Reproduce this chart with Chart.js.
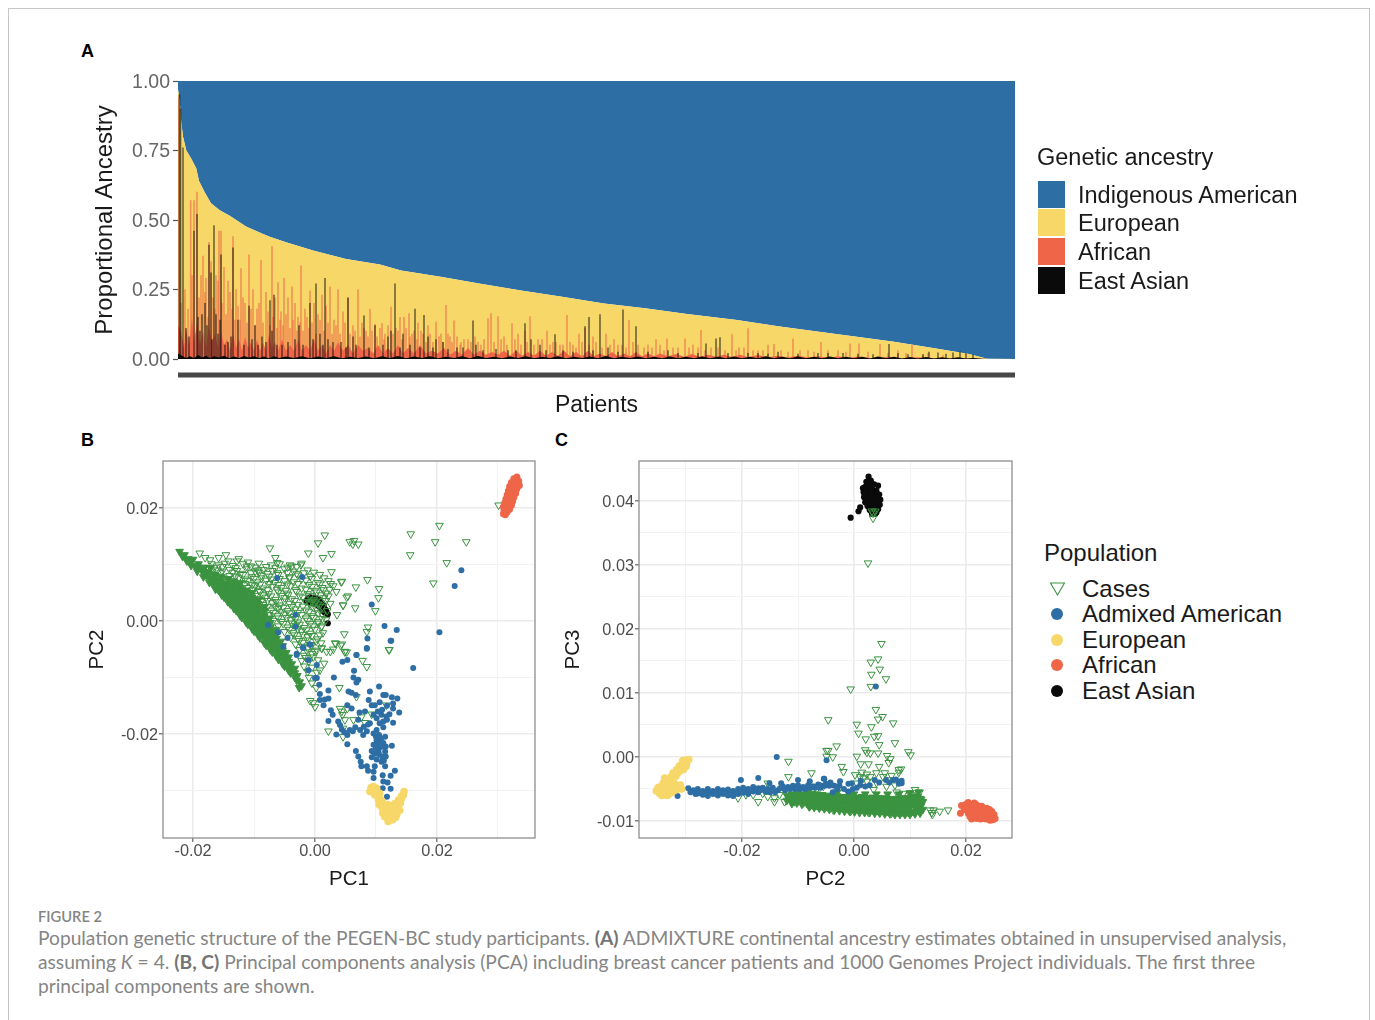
<!DOCTYPE html>
<html>
<head>
<meta charset="utf-8">
<title>Figure 2</title>
<script src="https://cdn.jsdelivr.net/npm/chart.js@4/dist/chart.umd.min.js"></script>
<style>
  html, body { margin: 0; background: #fff; overflow: hidden; }
  body { width: 1375px; height: 1020px; position: relative; font-family: "Liberation Sans", Arial, sans-serif; color: #1a1a1a; }
  canvas { position: absolute; }
  #frame { position: absolute; left: 8px; top: 8px; width: 1360px; height: 1100px; border: 1px solid #c6c6c6; }
  .tag { position: absolute; font-weight: bold; font-size: 18px; line-height: 20px; color: #000; }
  .lg { position: absolute; font-size: 24px; line-height: 30px; height: 30px; white-space: nowrap; }
  .lg.narrow { font-size: 23.5px; }
  .swatch, .dot { position: absolute; }
  .dot { width: 12px; height: 12px; border-radius: 50%; }
  #caption { position: absolute; left: 38px; top: 906px; font-family: Lato, sans-serif; color: #858585; white-space: nowrap; }
  #caption .fig { font-size: 14.7px; line-height: 20px; font-weight: 600; }
  #caption .txt { font-size: 19.2px; line-height: 24px; font-weight: 400; }
  #caption .txt b { font-weight: 700; color: #747474; }
</style>
</head>
<body>
<div id="frame"></div>
<div class="tag" style="left:81px;top:41px">A</div>
<div class="tag" style="left:81px;top:430px">B</div>
<div class="tag" style="left:555px;top:430px">C</div>
<canvas id="panelA" width="960" height="374" style="left:80px;top:56px"></canvas>
<canvas id="panelB" width="490" height="459" style="left:70px;top:436px"></canvas>
<canvas id="panelC" width="491" height="459" style="left:546px;top:436px"></canvas>
<div id="legends"></div>
<div id="caption">
  <div class="fig">FIGURE 2</div>
  <div class="txt">Population genetic structure of the PEGEN-BC study participants. <b>(A)</b> ADMIXTURE continental ancestry estimates obtained in unsupervised analysis,<br>assuming <i>K</i> = 4. <b>(B, C)</b> Principal components analysis (PCA) including breast cancer patients and 1000 Genomes Project individuals. The first three<br>principal components are shown.</div>
</div>
<script>
// ---- panel A: patients ordered by falling non-indigenous share ----
const ancestryLabels = ['Indigenous American', 'European', 'African', 'East Asian'];
const ancestryTicks = [0, 0.25, 0.5, 0.75, 1];
// [patient rank, share that is not Indigenous American]
const nonIndigenous = [[0,.97],[1.7,.93],[3.3,.85],[5,.8],[8.3,.75],[13.3,.72],[18.3,.685],[21,.64],[26.7,.6],[33,.56],[41.7,.535],[51.7,.515],[68,.477],[85,.45],[91.7,.44],[108,.42],[135,.39],[168,.36],[202,.34],[223,.318],[264,.295],[301,.272],[343,.246],[384,.224],[426,.2],[467,.183],[509,.162],[559,.14],[600,.118],[641,.098],[675,.082],[716,.062],[758,.038],[791,.018],[809,.001],[837,0]];
// low African + East Asian fringe
const africanBand = [[0,.12],[3,.1],[6,.04],[8,.11],[11,.05],[14,.15],[16,.06],[19,.13],[22,.05],[25,.1],[28,.04],[31,.12],[34,.06],[37,.09],[40,.04],[43,.1],[46,.05],[49,.07],[52,.03],[55,.09],[58,.04],[61,.07],[64,.03],[67,.08],[70,.04],[73,.06],[76,.03],[79,.07],[82,.03],[85,.06],[88,.03],[91,.09],[94,.04],[97,.06],[100,.03],[104,.07],[108,.03],[112,.05],[116,.03],[120,.07],[124,.03],[128,.05],[132,.03],[136,.07],[140,.03],[144,.05],[148,.02],[152,.05],[156,.03],[160,.06],[165,.03],[170,.05],[175,.02],[180,.05],[185,.03],[190,.04],[195,.02],[200,.05],[205,.02],[210,.04],[215,.02],[220,.05],[225,.02],[230,.04],[236,.02],[242,.05],[248,.02],[254,.03],[260,.02],[266,.04],[272,.015],[278,.03],[284,.015],[290,.04],[296,.015],[302,.03],[308,.015],[314,.025],[320,.015],[326,.03],[332,.012],[338,.03],[344,.012],[350,.025],[356,.012],[362,.03],[368,.012],[374,.025],[380,.012],[386,.03],[392,.01],[398,.025],[404,.01],[410,.03],[416,.01],[422,.02],[428,.01],[434,.025],[440,.01],[446,.02],[452,.01],[458,.025],[464,.01],[470,.02],[476,.01],[482,.02],[490,.01],[498,.018],[506,.008],[514,.018],[522,.008],[530,.015],[538,.008],[546,.015],[554,.007],[562,.015],[570,.006],[580,.014],[590,.006],[600,.012],[610,.005],[620,.012],[630,.005],[640,.01],[650,.004],[660,.01],[670,.004],[680,.009],[695,.003],[710,.008],[725,.003],[740,.006],[760,.002],[780,.004],[800,.001],[810,0]];
const eastAsianBand = [[0,.02],[4,.012],[8,.004],[12,.01],[16,.004],[20,.014],[24,.005],[28,.012],[32,.004],[36,.01],[41,.005],[46,.012],[51,.004],[56,.009],[61,.004],[66,.011],[71,.005],[76,.01],[81,.004],[86,.009],[91,.003],[96,.01],[101,.004],[108,.009],[116,.004],[124,.01],[132,.003],[140,.009],[148,.004],[156,.01],[164,.003],[172,.008],[180,.004],[188,.009],[196,.003],[204,.01],[212,.004],[220,.011],[228,.003],[236,.009],[244,.004],[252,.01],[260,.003],[268,.008],[276,.004],[284,.01],[292,.003],[300,.011],[308,.004],[316,.008],[324,.003],[332,.009],[340,.004],[348,.01],[356,.003],[364,.008],[372,.004],[380,.01],[388,.003],[396,.008],[404,.004],[412,.009],[420,.003],[428,.011],[436,.003],[444,.008],[452,.004],[460,.009],[468,.003],[476,.008],[484,.003],[492,.009],[500,.003],[508,.008],[516,.003],[524,.009],[532,.003],[540,.008],[548,.003],[556,.009],[564,.003],[572,.008],[580,.003],[588,.01],[596,.003],[604,.008],[612,.003],[620,.009],[628,.003],[636,.008],[644,.003],[652,.009],[660,.003],[668,.008],[676,.003],[684,.008],[692,.002],[700,.009],[708,.003],[716,.008],[724,.002],[732,.007],[740,.002],[748,.007],[756,.002],[764,.006],[772,.002],[780,.006],[788,.002],[796,.004],[804,.001],[810,0]];
// single patients standing out above the fringe: [rank, top of bar]
const africanSpikes = [[.5,.94],[12.7,.57],[16,.57],[19,.6],[25,.37],[28,.29],[31,.42],[33,.35],[38,.3],[41,.46],[43,.46],[46,.33],[50,.28],[55,.44],[58,.25],[63,.325],[67,.2],[71,.375],[75,.25],[79,.18],[83,.355],[88,.24],[94,.405],[97,.22],[100,.275],[103,.17],[106,.29],[110,.22],[114,.26],[117,.2],[120,.15],[123,.335],[127,.18],[132,.245],[136,.2],[140,.16],[144,.23],[148,.19],[152,.26],[156,.14],[160,.25],[165,.17],[170,.22],[175,.12],[180,.25],[184,.13],[188,.1],[192,.18],[197,.125],[204,.127],[207,.09],[213,.187],[218,.11],[222,.15],[226,.15],[231,.163],[234,.09],[240,.13],[243,.1],[250,.12],[258,.133],[263,.09],[268,.193],[272,.08],[276,.137],[283,.06],[290,.07],[300,.06],[310,.145],[313,.163],[320,.153],[326,.08],[334,.127],[340,.09],[347,.1],[352,.153],[360,.07],[369,.1],[375,.06],[382,.05],[389,.157],[395,.05],[401,.09],[407,.11],[415,.08],[428,.09],[436,.07],[440,.05],[451,.139],[455,.06],[470,.05],[478,.07],[489,.073],[495,.04],[507,.073],[515,.05],[523,.103],[533,.04],[554,.088],[561,.04],[570,.109],[580,.03],[590,.05],[596,.053],[615,.073],[630,.03],[643,.06],[660,.03],[672,.055],[681,.055],[702,.053],[720,.03],[734,.05],[750,.02]];
const africanLowSpikes = [[3,.2],[7,.25],[10,.18],[14,.3],[21,.22],[23,.3],[27,.24],[30,.15],[35,.22],[37,.18],[40,.28],[44,.2],[48,.16],[52,.24],[54,.18],[57,.14],[60,.19],[62,.14],[65,.22],[69,.13],[73,.18],[77,.12],[81,.2],[85,.13],[90,.17],[92,.12],[95,.15],[99,.11],[102,.14],[105,.12],[108,.16],[112,.11],[115,.14],[119,.1],[122,.13],[125,.1],[129,.15],[131,.11],[134,.13],[138,.09],[142,.14],[146,.1],[150,.13],[154,.09],[158,.12],[162,.09],[167,.13],[172,.09],[177,.1],[182,.08],[186,.11],[190,.08],[194,.1],[199,.08],[202,.11],[206,.07],[210,.12],[215,.09],[220,.1],[224,.07],[228,.11],[232,.08],[236,.1],[239,.07],[245,.09],[248,.06],[252,.09],[255,.06],[261,.08],[265,.06],[270,.09],[274,.06],[279,.08],[282,.05],[286,.07],[293,.06],[297,.08],[303,.05],[306,.07],[316,.06],[323,.07],[329,.05],[337,.07],[343,.05],[349,.06],[356,.05],[364,.07],[372,.05],[378,.06],[385,.05],[392,.06],[398,.04],[404,.06],[411,.05],[418,.06],[424,.04],[432,.05],[444,.05],[448,.04],[460,.05],[466,.04],[474,.04],[482,.05],[486,.03],[500,.04],[511,.04],[520,.04],[527,.03],[540,.04],[547,.03],[558,.03],[566,.04],[575,.03],[585,.03],[603,.03],[610,.025],[622,.03],[636,.025],[650,.03],[668,.025],[690,.025],[710,.02],[728,.02],[745,.015],[765,.012]];
const eastAsianSpikes = [[1.5,.95],[2.5,.9],[5,.76],[16,.46],[19,.52],[20,.15],[24,.16],[27,.2],[31,.41],[33,.31],[36,.48],[38,.16],[42,.14],[43,.375],[50,.06],[55,.4],[60,.14],[71,.19],[77,.12],[84,.08],[92,.21],[94,.1],[96,.23],[104,.05],[117,.07],[121,.12],[132,.2],[138,.27],[142,.09],[147,.29],[150,.07],[163,.06],[170,.22],[175,.08],[186,.155],[197,.12],[210,.08],[213,.1],[217,.27],[225,.09],[237,.18],[246,.157],[250,.08],[258,.07],[265,.06],[279,.04],[295,.137],[298,.05],[330,.03],[347,.127],[353,.07],[362,.05],[377,.088],[385,.03],[407,.117],[411,.15],[422,.16],[430,.04],[445,.177],[458,.117],[490,.03],[528,.055],[538,.073],[542,.077],[580,.02],[600,.025],[640,.02],[665,.02],[711,.053],[720,.02],[751,.025],[760,.022],[775,.022],[782,.026],[788,.02],[795,.015]];
const eastAsianLowSpikes = [[8,.11],[11,.08],[22,.1],[29,.12],[34,.07],[40,.09],[47,.05],[53,.08],[66,.05],[74,.07],[80,.05],[88,.06],[99,.05],[110,.06],[125,.05],[135,.07],[145,.05],[155,.06],[168,.04],[178,.05],[191,.04],[205,.05],[222,.04],[232,.05],[242,.04],[255,.04],[270,.035],[285,.04],[305,.03],[318,.035],[338,.03],[368,.03],[395,.025],[415,.03],[440,.025],[470,.025],[500,.02],[520,.02],[550,.02],[570,.02],[590,.018],[620,.018],[650,.02],[680,.018],[695,.016],[730,.016],[745,.016],[768,.018]];
const patientRange = [0, 837];
const rugLevel = -0.0576; // the merged tick row under the bars

// ---- panels B and C: PC scores in units of 1e-4, [x, y] ----
const populationLabels = ['Cases', 'Admixed American', 'European', 'African', 'East Asian'];
const casesCoreB = [[-222,123],[-214,117],[-208,110],[-205,104],[-200,109],[-196,96],[-191,101],[-186,90],[-181,95],[-178,80],[-176,87],[-171,94],[-168,66],[-167,74],[-165,82],[-158,54],[-157,62],[-156,70],[-155,78],[-149,42],[-148,50],[-147,58],[-146,66],[-139,30],[-138,38],[-137,46],[-136,54],[-135,63],[-129,18],[-128,26],[-127,34],[-126,42],[-125,50],[-124,59],[-120,6],[-119,14],[-118,22],[-117,30],[-116,38],[-115,46],[-114,54],[-110,-6],[-109,2],[-108,10],[-107,18],[-106,26],[-105,34],[-104,42],[-100,-18],[-99,-10],[-98,-2],[-97,6],[-96,14],[-95,22],[-94,30],[-90,-30],[-89,-22],[-88,-14],[-87,-6],[-86,2],[-85,10],[-84,18],[-80,-43],[-79,-35],[-78,-27],[-77,-19],[-76,-11],[-75,-3],[-74,5],[-70,-55],[-69,-47],[-68,-39],[-67,-31],[-66,-23],[-65,-15],[-60,-68],[-59,-60],[-58,-52],[-57,-44],[-56,-36],[-50,-80],[-49,-72],[-48,-64],[-47,-56],[-40,-92],[-39,-84],[-38,-76],[-30,-105],[-29,-97],[-26,-118],
  [-217,114],[-210,106],[-203,98],[-203,106],[-193,88],[-193,96],[-183,78],[-183,86],[-183,94],[-173,68],[-173,76],[-173,84],[-163,56],[-163,64],[-163,72],[-163,80],[-153,46],[-153,54],[-153,62],[-153,70],[-153,78],[-143,34],[-143,42],[-143,50],[-143,58],[-143,66],[-143,74],[-133,22],[-133,30],[-133,38],[-133,46],[-133,54],[-133,62],[-133,70],[-123,10],[-123,18],[-123,26],[-123,34],[-123,42],[-123,50],[-123,58],[-123,66],[-113,-2],[-113,6],[-113,14],[-113,22],[-113,30],[-113,38],[-113,46],[-113,54],[-103,-14],[-103,-6],[-103,2],[-103,10],[-103,18],[-103,26],[-103,34],[-103,42],[-103,50],[-93,-26],[-93,-18],[-93,-10],[-93,-2],[-93,6],[-93,14],[-93,22],[-93,30],[-93,38],[-83,-39],[-83,-31],[-83,-23],[-83,-15],[-83,-7],[-83,1],[-83,9],[-83,17],[-83,25],[-73,-51],[-73,-43],[-73,-35],[-73,-27],[-73,-19],[-73,-11],[-73,-3],[-63,-63],[-63,-55],[-63,-47],[-63,-39],[-63,-31],[-63,-23],[-53,-76],[-53,-68],[-53,-60],[-53,-52],[-53,-44],[-43,-88],[-43,-80],[-43,-72],[-43,-64],[-33,-100],[-33,-92],[-33,-84],[-25,-108],[-22,-115]];
const casesB = [[-189,120],[-180,112],[-172,108],[-158,112],[-146,117],[-142,106],[-128,106],[-125,110],[-110,104],[-93,90],[-74,129],[-65,112],[-62,103],[-41,99],[-23,99],[-11,120],[5,138],[16,152],[13,112],[27,119],[64,142],[62,136],[71,136],[57,140],[27,87],[43,69],[52,42],[46,28],[36,11],[13,-21],[11,-9],[33,-39],[11,-48],[49,-55],[157,154],[204,169],[197,140],[248,140],[156,117],[216,103],[194,67],[44,70],[86,73],[67,60],[105,57],[54,44],[104,41],[46,28],[66,23],[99,18],[87,-11],[85,-19],[48,-23],[121,-51],[44,-41],[301,205],[122,-51],[11,-48],[19,-54],[25,-54],[30,-50],[34,-40],[42,-43],[49,-54],[52,-55],[78,-70],[85,-81],[15,-75],[8,-87],[40,-118],[2,-118],[68,-134],[-8,-141],[-3,-145],[0,-152],[41,-155],[44,-160],[45,-166],[53,-155],[49,-175],[63,-175],[76,-170],[82,-180],[93,-165],[117,-149],[22,-195],[46,-190],[46,-205],
  [-170,101],[-158,99],[-148,102],[-135,98],[-118,101],[-105,97],[-92,102],[-72,99],[-58,101],[-38,97],[-22,102],
  [-160,90],[-152,88],[-140,91],[-128,89],[-112,92],[-98,88],[-85,91],[-70,89],[-50,92],[-35,88],[-12,90],
  [-140,80],[-130,79],[-118,82],[-104,78],[-88,81],[-75,79],[-60,82],[-42,78],[-28,81],[-8,79],[8,82],
  [-135,71],[-122,68],[-110,71],[-95,69],[-80,72],[-66,68],[-50,71],[-35,69],[-15,72],[5,68],[22,71],
  [-125,61],[-110,59],[-98,62],[-85,58],[-70,61],[-55,59],[-40,62],[-22,58],[-5,61],[12,59],[30,62],
  [-115,51],[-105,49],[-90,52],[-76,48],[-60,51],[-46,49],[-30,52],[-12,48],[3,51],[18,49],[35,52],
  [-105,41],[-92,39],[-80,42],[-65,38],[-50,41],[-38,39],[-20,42],[-2,38],[15,41],
  [-95,31],[-85,29],[-70,32],[-58,28],[-42,31],[-28,29],[-10,32],[8,28],[25,31],
  [-85,21],[-72,19],[-60,22],[-45,18],[-32,21],[-15,19],[2,22],[20,18],
  [-75,11],[-62,9],[-50,12],[-35,8],[-22,11],[-5,9],[12,12],
  [-68,1],[-55,-1],[-40,2],[-28,-2],[-12,1],[5,-1],[18,2],
  [-60,-9],[-45,-11],[-32,-8],[-18,-12],[-3,-9],[10,-11],
  [-50,-19],[-36,-21],[-22,-18],[-8,-22],
  [-40,-29],[-28,-31],[-12,-28],[4,-32],
  [-32,-41],[-20,-38],[-6,-42],[10,-39],
  [-25,-51],[-12,-48],[3,-52],
  [-18,-61],[-5,-58],[-22,-70],[-10,-71],[5,-69],[-18,-80],[-5,-82],[-12,-90],[3,-91],[-10,-100],[-5,-110],
  [-165,95],[-152,96],[-130,94],[-112,97],[-98,95],[-80,96],[-65,94],[-45,95],[-30,96],
  [-155,85],[-135,86],[-122,84],[-105,85],[-92,86],[-78,84],[-62,85],[-45,86],[-30,84],[-18,85],[-2,86],
  [-142,75],[-125,76],[-115,74],[-100,75],[-88,76],[-72,74],[-58,75],[-42,76],[-22,74],[-5,75],[15,76],
  [-130,65],[-115,66],[-103,64],[-90,65],[-75,66],[-60,64],[-45,65],[-28,66],[-10,64],[8,65],[26,66],
  [-120,55],[-102,56],[-92,54],[-78,55],[-62,56],[-48,54],[-32,55],[-15,56],[0,54],[14,55],[24,56],
  [-98,45],[-85,46],[-72,44],[-55,45],[-44,46],[-25,44],[-8,45],[10,46],[22,44],
  [-88,35],[-78,36],[-64,34],[-50,35],[-33,36],[-15,34],[2,35],[18,36],
  [-78,25],[-65,26],[-52,24],[-38,25],[-20,26],[-3,24],[12,25],
  [-68,15],[-55,16],[-42,14],[-28,15],[-10,16],[5,14],
  [-60,5],[-46,6],[-32,4],[-15,5],[-2,6],[12,4],
  [-52,-5],[-38,-4],[-25,-6],[-8,-5],[5,-4],
  [-42,-15],[-28,-14],[-14,-16],[0,-15],
  [-34,-25],[-20,-24],[-5,-26],[8,-25],
  [-26,-35],[-12,-34],[2,-36],
  [-20,-45],[-6,-44],
  [-12,-55],[0,-54],
  [-15,-65],[-3,-64],
  [-5,35],[0,33],[5,30],[-8,30]];
const admixedB = [[68,-60],[85,-48],[124,-35],[161,-83],[45,-72],[53,-69],[64,-88],[63,-100],[71,-104],[68,-109],[31,-100],[22,-123],[105,-116],[90,-125],[55,-125],[60,-127],[67,-131],[112,-131],[116,-131],[8,-129],[88,-140],[135,-137],[126,-135],[106,-144],[93,-149],[98,-149],[128,-146],[128,-155],[138,-162],[8,-140],[16,-139],[22,-137],[14,-149],[26,-158],[29,-166],[22,-177],[53,-149],[60,-155],[73,-162],[82,-160],[96,-166],[109,-166],[117,-169],[101,-172],[38,-178],[41,-184],[71,-175],[66,-188],[90,-181],[106,-181],[128,-180],[112,-188],[101,-193],[44,-192],[35,-201],[53,-202],[74,-193],[79,-202],[96,-199],[105,-202],[115,-205],[101,-211],[109,-214],[126,-221],[53,-218],[96,-219],[106,-224],[116,-222],[67,-230],[93,-230],[104,-231],[115,-231],[71,-240],[93,-241],[101,-245],[116,-240],[75,-249],[109,-249],[76,-257],[85,-257],[98,-257],[115,-257],[87,-265],[96,-267],[131,-265],[124,-274],[96,-278],[111,-273],[112,-284],[119,-286],[111,-296],[124,-297],[118,-311],
  [100,-205],[108,-208],[112,-216],[103,-218],[110,-222],[100,-225],[105,-236],[110,-240],[113,-247],[98,-235],[87,-183],[80,-187],[85,-195],[62,-195],[57,-193],[48,-197],[112,-178],[118,-175],[122,-165],[110,-157],[103,-160],[118,-150],
  [-8,-42],[-19,-48],[-30,-60],[-11,-69],[3,-78],[-11,-87],[3,-101],[7,-113],[0,-101],[-62,76],[-21,78],[-32,11],[-77,-7],[-32,-10],[-9,-41],[-20,-47],[-30,-58],[-52,-45],[-45,-30],[-60,-20],
  [240,90],[229,62],[93,29],[114,-9],[134,-16],[204,-20],[86,-31],[125,-35],[85,-49],[68,-60]];
const europeanB = [[96,-293],[90,-302],[101,-296],[98,-308],[106,-311],[104,-317],[112,-323],[117,-326],[113,-332],[120,-335],[111,-340],[119,-346],[127,-352],[134,-343],[139,-335],[128,-335],[137,-326],[131,-323],[145,-308],[142,-314],[137,-317],[126,-343],[120,-355],[128,-326],[115,-340],[93,-298],[98,-300],[109,-318],[124,-328],[106,-305],
  [119,-325],[125,-332],[131,-330],[135,-336],[122,-340],[130,-340],[116,-347],[125,-350],[132,-348],[110,-330],[105,-325],[100,-303],[92,-295],[103,-310],[136,-320],[142,-310],[146,-302],[140,-322],[120,-350],[114,-346],[118,-330]];
const africanB = [[331,255],[326,252],[334,248],[322,245],[329,243],[335,240],[319,238],[325,236],[331,234],[317,230],[323,228],[329,226],[315,223],[321,220],[326,219],[313,216],[319,213],[324,212],[311,209],[316,206],[322,205],[309,202],[314,199],[319,198],[310,195],[315,193],[309,190],[312,188]];
const eastAsianB = [[-14,36],[-11,40],[-8,42],[-5,41],[-3,38],[-9,34],[-6,32],[-2,34],[1,40],[3,36],[0,30],[4,28],[6,38],[8,34],[7,26],[10,30],[12,26],[10,22],[14,28],[15,22],[13,18],[17,20],[19,16],[16,15],[21,12],[21,-4]];

const casesCoreC = [[-120,-60],[-120,-68],[-111,-58],[-111,-66],[-111,-73],[-102,-56],[-102,-64],[-102,-72],[-93,-58],[-93,-65],[-93,-74],[-84,-56],[-84,-65],[-84,-73],[-75,-57],[-75,-66],[-75,-75],[-66,-58],[-66,-67],[-66,-76],[-57,-59],[-57,-67],[-57,-77],[-48,-60],[-48,-68],[-48,-78],[-39,-61],[-39,-69],[-39,-78],[-30,-61],[-30,-70],[-30,-79],[-21,-62],[-21,-71],[-21,-80],[-12,-62],[-12,-71],[-12,-81],[-3,-63],[-3,-72],[-3,-81],[6,-63],[6,-72],[6,-82],[15,-62],[15,-72],[15,-82],[24,-64],[24,-73],[24,-83],[33,-63],[33,-73],[33,-83],[42,-64],[42,-74],[42,-84],[51,-64],[51,-74],[51,-84],[60,-65],[60,-75],[60,-85],[69,-65],[69,-75],[69,-85],[78,-65],[78,-75],[78,-86],[87,-64],[87,-75],[87,-86],[96,-64],[96,-75],[96,-86],[105,-62],[105,-73],[105,-85],[114,-62],[114,-72],[114,-83],[120,-66],[120,-76],
  [-116,-64],[-107,-60],[-107,-70],[-98,-60],[-98,-68],[-89,-60],[-89,-70],[-80,-60],[-80,-70],[-80,-78],[-71,-62],[-71,-71],[-71,-79],[-62,-62],[-62,-72],[-62,-80],[-53,-63],[-53,-72],[-53,-81],[-44,-64],[-44,-73],[-44,-82],[-35,-65],[-35,-74],[-35,-83],[-26,-66],[-26,-75],[-26,-84],[-17,-66],[-17,-76],[-17,-85],[-8,-67],[-8,-76],[-8,-85],[1,-67],[1,-77],[1,-86],[10,-67],[10,-77],[10,-87],[19,-67],[19,-77],[19,-87],[28,-68],[28,-78],[28,-87],[37,-68],[37,-78],[37,-88],[46,-69],[46,-79],[46,-88],[55,-69],[55,-79],[55,-89],[64,-70],[64,-80],[64,-89],[73,-70],[73,-80],[73,-90],[82,-70],[82,-80],[82,-90],[91,-69],[91,-80],[91,-90],[100,-68],[100,-79],[100,-90],[109,-67],[109,-78],[109,-89],[118,-65],[118,-78],[118,-88],[123,-70],[123,-82],
  [0,-58],[20,-58],[40,-58],[60,-58],[80,-58],[100,-56],[115,-55],[-30,-55],[-10,-56]];
const casesC = [[49,177],[43,153],[30,148],[46,137],[31,129],[57,122],[30,110],[-6,106],[39,74],[51,63],[43,59],[-46,58],[5,51],[70,53],[31,47],[8,37],[21,28],[36,32],[43,33],[73,22],[45,19],[-31,17],[-46,10],[20,11],[23,7],[29,6],[43,6],[97,8],[101,3],[5,1],[59,2],[65,-3],[62,-9],[-49,1],[-38,0],[12,-11],[26,-11],[-22,-15],[-19,-23],[45,-15],[80,-20],[84,-19],[80,-24],[2,-28],[14,-24],[23,-27],[11,-31],[17,-33],[29,-31],[40,-25],[55,-25],[67,-29],[52,-31],[61,-36],[40,-40],[23,-38],[5,-41],[73,-44],[35,-51],[58,-46],[76,-55],[109,-51],[117,-55],[100,-59],[88,-57],[139,-87],[142,-83],[153,-85],[168,-83],[136,-83],[140,-90],[205,-89],[-37,-83],[-6,-85],[26,-87],[67,-88],[-49,10],[-117,-7],[-117,-31],[-76,-25],[-154,-41],[-207,-64],[-193,-59],[-180,-59],[-171,-70],[-163,-57],[-154,-62],[-142,-64],[-142,-70],[-133,-59],[-124,-70],[-115,-62],[-103,-67],[-79,-77],[-61,-77],[-91,-72],[-76,-46],[-67,-51],[-55,-46],[25,303],[34,381],[34,373],[32,384],[38,384]];
const admixedC = [[-315,-61],[-296,-49],[-287,-52],[-279,-50],[-270,-53],[-261,-50],[-252,-53],[-243,-50],[-234,-52],[-225,-51],[-216,-53],[-207,-50],[-198,-48],[-189,-50],[-180,-47],[-171,-49],[-163,-48],[-154,-50],[-145,-48],[-136,-52],[-127,-46],[-118,-47],[-109,-45],[-100,-44],[-91,-47],[-82,-44],[-73,-46],[-64,-43],[-55,-45],[-279,-57],[-270,-59],[-261,-61],[-252,-58],[-243,-60],[-234,-58],[-225,-60],[-216,-61],[-207,-58],[-198,-56],[-189,-58],[-180,-54],[-171,-55],[-202,-36],[-171,-33],[-138,0],[-151,-41],[-130,-41],[-100,-36],[-79,-38],[-54,-34],[39,110],[-49,-5],[-53,-34],[-44,-45],[-61,-44],[-52,-45],[-38,-55],[-25,-38],[-26,-45],[-10,-54],[-4,-41],[-10,-42],[12,-37],[11,-44],[20,-46],[37,-36],[57,-36],[70,-36],[75,-35],[85,-37],[85,-41],
  [-292,-55],[-283,-58],[-274,-55],[-265,-57],[-256,-55],[-247,-57],[-238,-55],[-229,-57],[-220,-56],[-211,-55],[-202,-53],[-193,-54],[-184,-52],[-176,-52],[-167,-52],[-158,-54],[-150,-55],[-141,-55],[-132,-49],[-123,-52],[-114,-50],[-105,-50],[-96,-50],[-87,-50],[-78,-48],[-69,-48],[-60,-48],[-50,-42],[-42,-40],[-35,-45],[-30,-50],[-18,-50],[-2,-50],[5,-48],[28,-44],[45,-40],[63,-40],[80,-42]];
const europeanC = [[-295,-4],[-302,-5],[-299,-10],[-308,-12],[-317,-20],[-323,-25],[-311,-18],[-320,-28],[-338,-33],[-326,-38],[-317,-44],[-341,-41],[-332,-44],[-347,-47],[-353,-53],[-341,-57],[-329,-57],[-317,-51],[-308,-50],[-323,-47],[-335,-51],[-347,-57],
  [-300,-15],[-306,-6],[-313,-24],[-305,-20],[-312,-14],[-318,-30],[-326,-30],[-332,-36],[-340,-47],[-345,-52],[-335,-58],[-330,-42],[-322,-40],[-325,-55],[-315,-47],[-310,-44],[-338,-54],[-350,-48],[-343,-60],[-333,-60],[-320,-52]];
const africanC = [[192,-76],[190,-88],[204,-71],[201,-80],[210,-75],[219,-75],[228,-77],[237,-80],[246,-85],[252,-96],[243,-99],[231,-96],[219,-96],[210,-97],[213,-88],[225,-88],[237,-90],[246,-93],[204,-88],[219,-83],[231,-83],
  [197,-82],[207,-82],[215,-80],[223,-80],[230,-88],[238,-85],[243,-90],[222,-93],[214,-92],[226,-97],[236,-97],[248,-98],[207,-93],[200,-74],[215,-72],[242,-82],[250,-90]];
const eastAsianC = [[26,438],[22,430],[30,432],[20,422],[28,424],[36,426],[43,424],[17,414],[25,416],[33,418],[40,416],[45,410],[18,406],[26,408],[34,410],[41,406],[20,398],[28,400],[36,402],[44,400],[24,392],[32,394],[40,394],[46,394],[28,386],[36,386],[43,387],[32,380],[38,380],[11,390],[8,384],[-6,374],
  [22,415],[30,412],[38,412],[22,400],[30,408],[38,405],[30,392],[36,394],[26,396],[42,395],[34,386],[40,382],[25,428],[33,426],[26,432],[35,398],[43,410],[47,402],[19,410],[16,420]];

// colours
const BLUE = '#2d6ea4', YELLOW = '#f6d768', RED = '#ee6548', BLACK = '#0a0a0a', GREEN = '#3b9340';
const ancestryColors = [BLUE, YELLOW, RED, BLACK];
const populationColors = [GREEN, BLUE, YELLOW, RED, BLACK];

const SANS = '"Liberation Sans", Arial, sans-serif';
const xy = pts => pts.map(([x, y]) => ({ x, y }));
const pc = pts => pts.map(([x, y]) => ({ x: x / 1e4, y: y / 1e4 }));

Chart.defaults.animation = false;
Chart.defaults.responsive = false;
Chart.defaults.font.family = SANS;

// ---- panel A ----
const area = (data, color, fill, order) => ({ type: 'line', data: xy(data), backgroundColor: color, borderWidth: 0, pointRadius: 0, tension: 0, fill, order });
const spikes = (data, color, order) => ({ type: 'bar', data: xy(data), backgroundColor: color, barThickness: 1, grouped: false, order });

new Chart(document.getElementById('panelA'), {
  type: 'line',
  data: {
    datasets: [
      area(nonIndigenous, BLUE, 'end', 6),
      area(nonIndigenous, YELLOW, 'origin', 5),
      spikes([...africanSpikes, ...africanLowSpikes], 'rgba(238,101,72,0.6)', 4),
      area(africanBand, RED, 'origin', 3),
      spikes([...eastAsianSpikes, ...eastAsianLowSpikes], 'rgba(10,10,10,0.55)', 2),
      area(eastAsianBand, BLACK, 'origin', 1),
      { type: 'line', data: xy([[patientRange[0], rugLevel], [patientRange[1], rugLevel]]), borderColor: '#474747', borderWidth: 5, pointRadius: 0, clip: false, fill: false, order: 0 }
    ]
  },
  options: {
    layout: { padding: { left: 10.6, right: 25, top: 25, bottom: 11 } },
    plugins: { legend: { display: false }, tooltip: { enabled: false } },
    scales: {
      x: {
        type: 'linear', min: patientRange[0], max: patientRange[1], offset: false,
        grid: { display: false }, border: { display: false }, ticks: { display: false },
        title: { display: true, text: 'Patients', color: '#1a1a1a', font: { size: 23 }, padding: 0 },
        afterFit: s => { s.height = 60; }
      },
      y: {
        min: 0, max: 1,
        afterBuildTicks: s => { s.ticks = ancestryTicks.map(value => ({ value })); },
        grid: { drawOnChartArea: false, tickLength: 5, tickColor: '#555', tickWidth: 1.2 },
        border: { display: false },
        ticks: { color: '#666', font: { size: 19.5 }, padding: 3, labelOffset: 1.5, callback: v => v.toFixed(2) },
        title: { display: true, text: 'Proportional Ancestry', color: '#1a1a1a', font: { size: 24 }, padding: 0 },
        afterFit: s => { s.width = 87.4; }
      }
    }
  }
});

// ---- panels B and C ----
const panelFrame = {
  id: 'panelFrame',
  afterDatasetsDraw(chart) {
    const { ctx, chartArea: a } = chart;
    ctx.save();
    ctx.strokeStyle = '#8e8e8e';
    ctx.lineWidth = 1.3;
    ctx.strokeRect(a.left, a.top, a.right - a.left, a.bottom - a.top);
    ctx.restore();
  }
};

const isStep = (v, step) => Math.abs(v / step - Math.round(v / step)) < 1e-6;

function pcAxis(title, range, gridStep, labelStep, fitKey, fitSize, tickPad, labelOffset) {
  return {
    type: 'linear', min: range[0], max: range[1],
    grid: {
      color: c => c.tick && isStep(c.tick.value, labelStep) ? '#ebebeb' : '#f2f2f2',
      lineWidth: c => c.tick && isStep(c.tick.value, labelStep) ? 1.6 : 1,
      tickLength: 4, tickWidth: 1.1,
      tickColor: c => c.tick && isStep(c.tick.value, labelStep) ? '#555' : 'rgba(0,0,0,0)'
    },
    border: { display: false },
    ticks: {
      stepSize: gridStep, includeBounds: false, autoSkip: false, maxRotation: 0,
      color: '#4d4d4d', font: { size: 16.3 }, padding: tickPad, labelOffset,
      callback: v => {
        if (!isStep(v, labelStep)) return '';
        const r = Math.round(v * 100) / 100;
        return (r === 0 ? 0 : r).toFixed(2);
      }
    },
    title: { display: true, text: title, color: '#1a1a1a', font: { size: 20.5 }, padding: 0 },
    afterFit: s => { s[fitKey] = fitSize; }
  };
}

function pcDatasets(core, cases, admixed, european, african, eastAsian) {
  const circles = (data, color, radius, order) => ({ data: pc(data), pointStyle: 'circle', pointRadius: radius, pointBackgroundColor: color, pointBorderWidth: 0, order });
  const triangles = (data, fillColor, order) => ({ data: pc(data), pointStyle: 'triangle', pointRotation: 180, pointRadius: 4.4, pointBackgroundColor: fillColor, pointBorderColor: GREEN, pointBorderWidth: 1, order });
  return [
    circles(eastAsian, BLACK, 3.1, 5),
    triangles(core, GREEN, 4),
    triangles(cases, 'rgba(0,0,0,0)', 3),
    circles(admixed, BLUE, 3, 2),
    circles(european, YELLOW, 3.8, 1),
    circles(african, RED, 3.5, 0)
  ];
}

function pcChart(id, datasets, xTitle, yTitle, xRange, yRange, yGrid) {
  new Chart(document.getElementById(id), {
    type: 'scatter',
    data: { datasets },
    options: {
      layout: { padding: { left: 15.4, right: 25, top: 25, bottom: 3 } },
      plugins: { legend: { display: false }, tooltip: { enabled: false } },
      scales: {
        x: pcAxis(xTitle, xRange, 0.01, 0.02, 'height', 54, 0, 0),
        y: pcAxis(yTitle, yRange, yGrid[0], yGrid[1], 'width', 77.6, 1, 1.8)
      }
    },
    plugins: [panelFrame]
  });
}

pcChart('panelB', pcDatasets(casesCoreB, casesB, admixedB, europeanB, africanB, eastAsianB),
  'PC1', 'PC2', [-0.02492, 0.03607], [-0.03841, 0.02832], [0.01, 0.02]);
pcChart('panelC', pcDatasets(casesCoreC, casesC, admixedC, europeanC, africanC, eastAsianC),
  'PC2', 'PC3', [-0.03839, 0.02821], [-0.01266, 0.04625], [0.005, 0.01]);

// ---- legends ----
const legends = document.getElementById('legends');
function addText(text, left, centerY, narrow) {
  const el = document.createElement('div');
  el.className = narrow ? 'lg narrow' : 'lg';
  el.textContent = text;
  el.style.left = left + 'px';
  el.style.top = (centerY - 15) + 'px';
  legends.appendChild(el);
}
addText('Genetic ancestry', 1037, 157, true);
const swatchTops = [181, 209, 238, 267];
ancestryLabels.forEach((label, i) => {
  const s = document.createElement('div');
  s.className = 'swatch';
  s.style.cssText = `left:1038px;top:${swatchTops[i]}px;width:27px;height:26.5px;background:${ancestryColors[i]}`;
  legends.appendChild(s);
  addText(label, 1078, swatchTops[i] + 14, true);
});
addText('Population', 1044, 553);
const populationRows = [589, 614, 640, 665, 691];
populationLabels.forEach((label, i) => {
  const cy = populationRows[i];
  if (i === 0) {
    legends.insertAdjacentHTML('beforeend', `<svg style="position:absolute;left:1049px;top:${cy - 8}px" width="17" height="16"><path d="M1.5 2 H15.5 L8.5 14 Z" fill="none" stroke="${populationColors[0]}" stroke-width="1.1"/></svg>`);
  } else {
    const d = document.createElement('div');
    d.className = 'dot';
    d.style.cssText = `left:1051px;top:${cy - 6}px;background:${populationColors[i]}`;
    legends.appendChild(d);
  }
  addText(label, 1082, cy);
});
</script>
</body>
</html>
